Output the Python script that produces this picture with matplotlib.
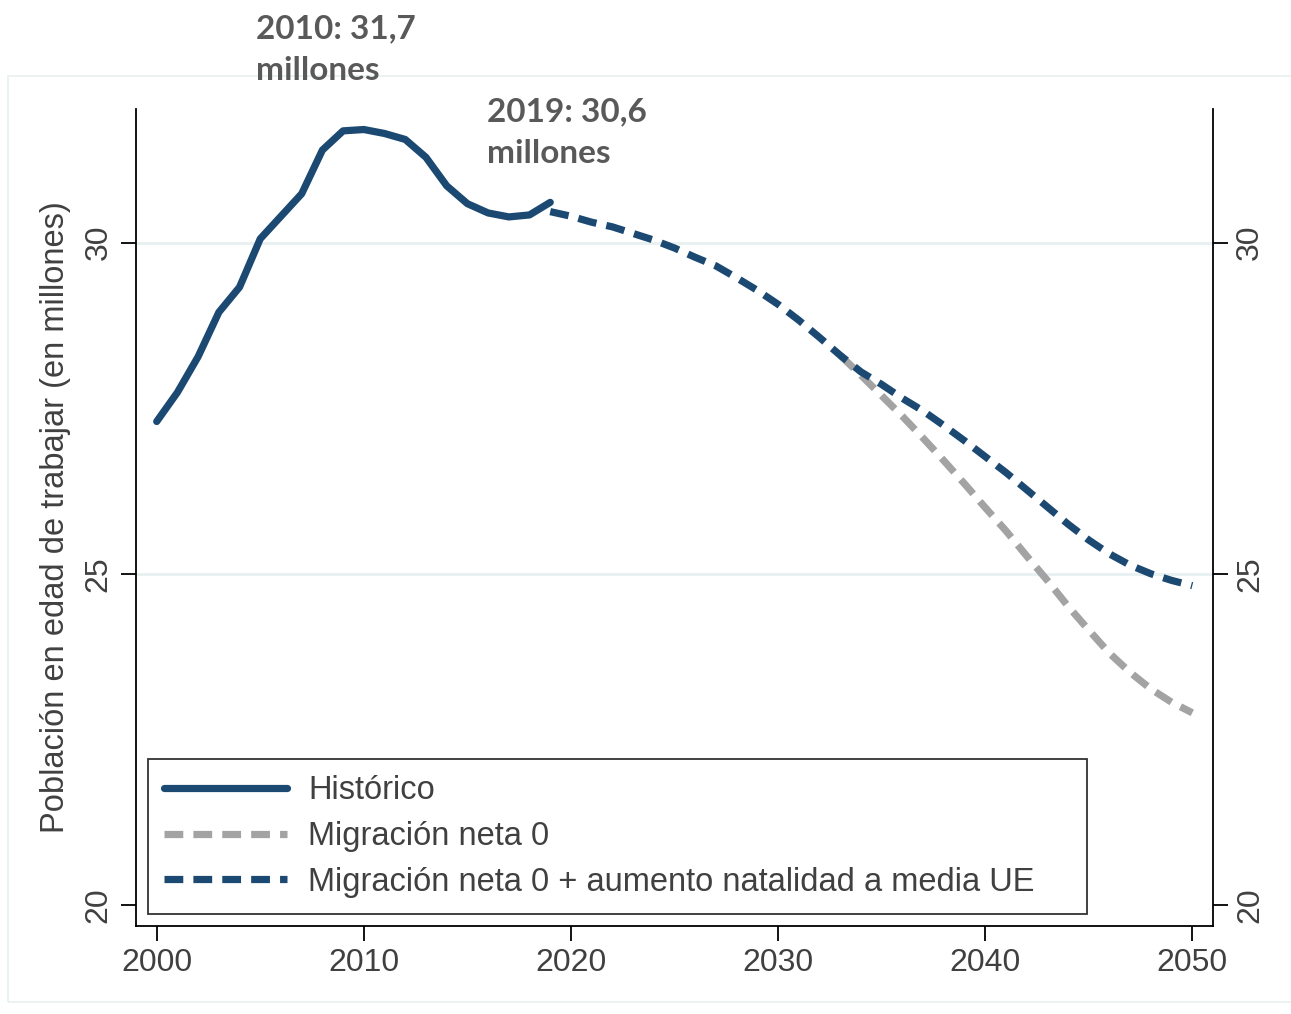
import numpy as np
import matplotlib
matplotlib.use("Agg")
from matplotlib import pyplot as plt
from matplotlib.patches import Rectangle

# historical working-age population (millions)
hist_years = list(range(2000, 2020))
hist_vals = [27.30, 27.74, 28.28, 28.95, 29.33, 30.06, 30.40, 30.74, 31.40, 31.69,
             31.71, 31.65, 31.56, 31.29, 30.86, 30.59, 30.45, 30.39, 30.42, 30.61]

# projection: zero net migration + fertility up to EU average
nat_years = list(range(2019, 2051))
nat_vals = [30.47, 30.40, 30.31, 30.24, 30.14, 30.04, 29.92, 29.78, 29.65, 29.47,
            29.28, 29.07, 28.83, 28.57, 28.30, 28.05, 27.86, 27.65, 27.46, 27.24,
            27.01, 26.77, 26.53, 26.27, 26.01, 25.75, 25.51, 25.30, 25.13, 25.00,
            24.90, 24.82]

# projection: zero net migration (same path as above until ~2033)
mig_years = list(range(2033, 2051))
mig_vals = [28.30, 28.00, 27.69, 27.38, 27.05, 26.71, 26.36, 26.00, 25.65, 25.27,
            24.90, 24.51, 24.15, 23.80, 23.51, 23.26, 23.06, 22.90]

labels = ["Histórico", "Migración neta 0", "Migración neta 0 + aumento natalidad a media UE"]
notes = [(2010, "2010: 31,7\nmillones"), (2019, "2019: 30,6\nmillones")]

navy = "#1b4972"
grey = "#a3a3a3"
txt = "#404040"
W, H = 1291, 1014
ax_l, ax_r, ax_t, ax_b = 136, 1213, 109, 926

plt.rcParams['font.family'] = ['Liberation Sans', 'DejaVu Sans']

fig = plt.figure(figsize=(W / 100, H / 100), dpi=100)
fig.patches.append(Rectangle((8 / W, 0.012), 1.0, 1 - 76 / H - 0.012, transform=fig.transFigure,
                             fill=False, edgecolor="#e9f0f0", linewidth=1.2, zorder=0))
ax = fig.add_axes([ax_l / W, 1 - ax_b / H, (ax_r - ax_l) / W, (ax_b - ax_t) / H])

ax.plot(hist_years, hist_vals, color=navy, lw=5.2, solid_capstyle='round', label=labels[0], zorder=3)
ax.plot(mig_years, mig_vals, color=grey, lw=5.2, dashes=(2.6, 1.4), label=labels[1], zorder=2)
ax.plot(nat_years, nat_vals, color=navy, lw=5.2, dashes=(2.6, 1.4), label=labels[2], zorder=3)

ax.set_xlim(1999, 2051)
ax.set_ylim(19.68, 32.02)
ax.set_xticks([2000, 2010, 2020, 2030, 2040, 2050])
ax.set_yticks([20, 25, 30])
for v in [25, 30]:
    ax.axhline(v, color="#e8f0f2", lw=2, zorder=1)

for s in ['left', 'bottom', 'right']:
    ax.spines[s].set_linewidth(1.3)
ax.spines['top'].set_visible(False)
ax.tick_params(axis='x', direction='out', length=11, width=1.3, labelsize=23,
               labelcolor=txt, pad=5)
ax.tick_params(axis='y', direction='out', length=11, width=1.3, labelsize=23,
               labelcolor=txt, labelrotation=90, pad=5, right=True, labelright=True)
for lab in ax.get_yticklabels():
    lab.set_va('center')

ax.set_ylabel("Población en edad de trabajar (en millones)", fontsize=23.5, color=txt, labelpad=9)

# legend box stretched to the reference width
aw, ah = ax_r - ax_l, ax_b - ax_t
leg = ax.legend(loc='lower left', bbox_to_anchor=(12 / aw, 12 / ah, (1087 - 148) / aw, 0.1),
                mode='expand', fontsize=23.5, frameon=True,
                fancybox=False, edgecolor='black', handlelength=3.75, handletextpad=0.65,
                labelspacing=0.45, borderpad=0.5, labelcolor=txt, borderaxespad=0)
leg.get_frame().set_linewidth(1.3)

# annotations above the peak and 2019 value
note_pos = [(256, 14), (487, 97)]
for (yr, s), (px, py) in zip(notes, note_pos):
    fig.text(px / W, 1 - py / H, s, ha='left', va='top', fontsize=24, fontweight='bold',
             color="#595959", family=['Lato', 'DejaVu Sans'], linespacing=1.55)

fig.savefig("out.png", dpi=100)
